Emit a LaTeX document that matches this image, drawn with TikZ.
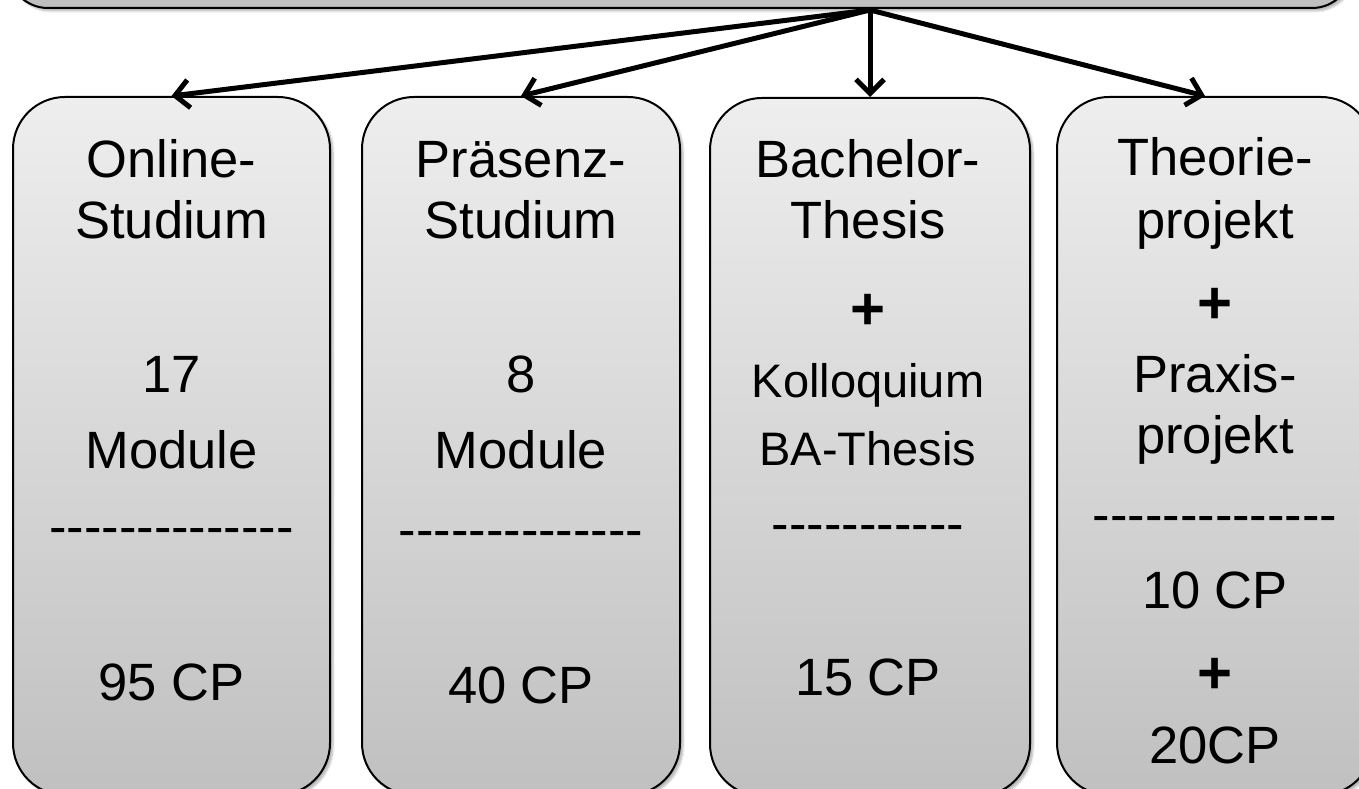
\documentclass[tikz,border=0pt]{standalone}
\usepackage{fontspec}
\setmainfont{Liberation Sans}[Ligatures=TeXOff]
\usetikzlibrary{arrows.meta,shadows.blur}
\definecolor{boxtop}{RGB}{238,238,238}
\definecolor{boxbot}{RGB}{192,192,192}
\definecolor{topfill}{RGB}{191,191,191}
\begin{document}
\begin{tikzpicture}[x=1pt,y=-1pt,
  box/.style={draw=black, line width=2pt, rounded corners=52pt, top color=boxtop, bottom color=boxbot,
    minimum height=698pt, inner sep=0pt,
    blur shadow={shadow xshift=3pt, shadow yshift=-3pt, shadow blur steps=6, shadow opacity=30}},
  hdrbox/.style={draw=black, line width=2pt, rounded corners=40pt, fill=topfill,
    minimum width=1344pt, minimum height=100pt, inner sep=0pt,
    blur shadow={shadow xshift=3pt, shadow yshift=-3pt, shadow blur steps=6, shadow opacity=30}},
  txt/.style={font=\fontsize{52.5}{60}\selectfont, anchor=base, inner sep=0pt},
  plus/.style={font=\fontsize{60}{66}\selectfont\bfseries, anchor=base, inner sep=0pt},
  sm/.style={font=\fontsize{47}{54}\selectfont, anchor=base, inner sep=0pt},
  arr/.style={line width=5pt, -{Straight Barb[length=14pt,width=28pt]}}]
\useasboundingbox (0,0) rectangle (1359,789);

\node[hdrbox] (hdr) at (680,-42) {};
\coordinate (src) at (870,10);

\node[box, minimum width=317pt] (b1) at (171.5,446) {};
\node[box, minimum width=318pt] (b2) at (521,446) {};
\node[box, minimum width=320pt] (b3) at (870,447) {};
\node[box, minimum width=316pt] (b4) at (1215,446) {};

\draw[arr] (src) -- (b1.north);
\draw[arr] (src) -- (b2.north);
\draw[arr] (src) -- (b3.north);
\draw[arr] (src) -- ([xshift=-10pt]b4.north);

% box 1
\node[txt] (t1a) at (171.5,177) {Online-};
\node[txt] (t1b) at (171.5,238) {Studium};
\node[txt] (t1c) at (171.5,392) {17};
\node[txt] (t1d) at (171.5,468) {Module};
\node[txt] (t1e) at (171.5,544) {--------------};
\node[txt] (t1f) at (171.5,700) {95 CP};

% box 2
\node[txt] (t2a) at (521,177) {Präsenz-};
\node[txt] (t2b) at (521,238) {Studium};
\node[txt] (t2c) at (521,392) {8};
\node[txt] (t2d) at (521,468) {Module};
\node[txt] (t2e) at (521,547) {--------------};
\node[txt] (t2f) at (521,703) {40 CP};

% box 3
\node[txt]  (t3a) at (868,177) {Bachelor-};
\node[txt]  (t3b) at (868,238) {Thesis};
\node[plus] (t3c) at (868,329) {+};
\node[sm]   (t3d) at (868,397) {Kolloquium};
\node[sm]   (t3e) at (868,465) {BA-Thesis};
\node[txt]  (t3f) at (868,541) {-----------};
\node[txt]  (t3g) at (868,695) {15 CP};

% box 4
\node[txt]  (t4a) at (1215,175) {Theorie-};
\node[txt]  (t4b) at (1215,238) {projekt};
\node[plus] (t4c) at (1215,323) {+};
\node[txt]  (t4d) at (1215,392) {Praxis-};
\node[txt]  (t4e) at (1215,453) {projekt};
\node[txt]  (t4f) at (1215,532) {--------------};
\node[txt]  (t4g) at (1215,608) {10 CP};
\node[plus] (t4h) at (1215,693) {+};
\node[txt]  (t4i) at (1215,763) {20CP};
\end{tikzpicture}
\end{document}
